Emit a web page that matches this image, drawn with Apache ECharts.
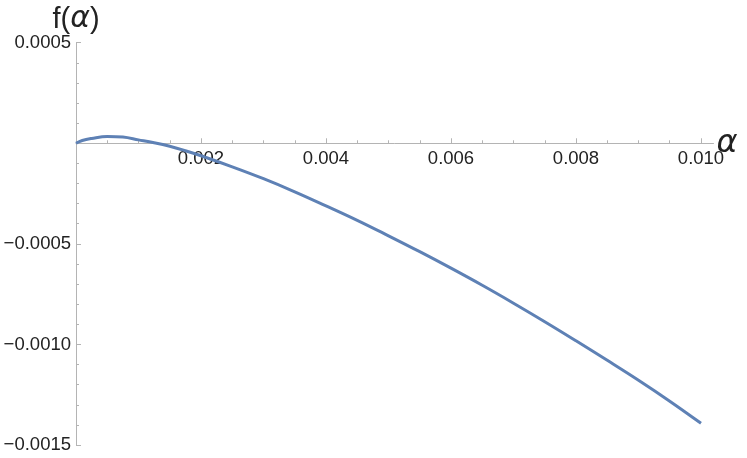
<!DOCTYPE html>
<html>
<head>
<meta charset="utf-8">
<script src="https://cdn.jsdelivr.net/npm/echarts@6/dist/echarts.min.js"></script>
<style>
  html, body { margin: 0; padding: 0; background: #fff; }
  #main { width: 747px; height: 458px; }
</style>
</head>
<body>
<div id="main"></div>
<script>
var chart = echarts.init(document.getElementById('main'));

// curve
var alpha = [0, 0.0001, 0.00025, 0.0005, 0.00075, 0.001, 0.00125, 0.0015, 0.00175,
  0.002, 0.0025, 0.003, 0.0035, 0.004, 0.0045, 0.005, 0.0055, 0.006, 0.0065,
  0.007, 0.0075, 0.008, 0.0085, 0.009, 0.0095, 0.01];
var fAlpha = [0, 0.000014, 0.000024, 0.000034, 0.000031, 0.000017, 0.0000025, -0.000015, -0.000037,
  -0.000062, -0.000117, -0.000176, -0.000241, -0.000311, -0.000383, -0.00046, -0.000539, -0.000621, -0.000706,
  -0.000795, -0.000887, -0.000982, -0.001079, -0.001178, -0.001282, -0.001392];

var xTicks = [0.002, 0.004, 0.006, 0.008, 0.010];
var xTickLabels = ['0.002', '0.004', '0.006', '0.008', '0.010'];
var xMinorTicks = [0.0005, 0.001, 0.0015, 0.0025, 0.003, 0.0035, 0.0045, 0.005, 0.0055,
  0.0065, 0.007, 0.0075, 0.0085, 0.009, 0.0095];
var yTicks = [0.0005, -0.0005, -0.0010, -0.0015];
var yTickLabels = ['0.0005', '\u22120.0005', '\u22120.0010', '\u22120.0015'];

var axisGray = '#b4b4b4';
var textColor = '#222';
var fontName = 'Liberation Sans';

var gridTop = 42.7;
var gridHeight = 402.3;
// y = 0 sits a quarter of the way down (range 0.0005 .. -0.0015)
var xAxisOffset = -gridHeight * 0.75;

function lookup(v, vals, labels) {
  for (var i = 0; i < vals.length; i++) {
    if (Math.abs(vals[i] - v) < 1e-9) return labels[i];
  }
  return '';
}

var points = alpha.map(function (a, i) { return [a, fAlpha[i]]; });

var option = {
  animation: false,
  grid: {
    left: 76,
    top: gridTop,
    width: 637.5,
    height: gridHeight,
    outerBounds: { left: -80, top: -80, right: -80, bottom: -80 }
  },
  xAxis: [
    {
      type: 'value',
      min: 0,
      max: 0.0102,
      interval: 0.002,
      position: 'bottom',
      offset: xAxisOffset,
      axisLine: { onZero: false, lineStyle: { color: axisGray, width: 1 } },
      axisTick: { show: true, inside: true, length: 5, customValues: xTicks, lineStyle: { color: axisGray } },
      axisLabel: {
        customValues: xTicks,
        margin: 6,
        color: textColor,
        fontFamily: fontName,
        fontSize: 18.5,
        formatter: function (v) { return lookup(v, xTicks, xTickLabels); }
      },
      splitLine: { show: false },
      name: '\u03b1',
      nameLocation: 'end',
      nameGap: 3,
      nameMoveOverlap: false,
      nameTextStyle: {
        color: textColor,
        fontFamily: 'DejaVu Sans',
        fontSize: 32,
        fontStyle: 'italic',
        verticalAlign: 'middle',
        padding: [0, 0, 6, 0]
      }
    },
    {
      type: 'value',
      min: 0,
      max: 0.0102,
      position: 'bottom',
      offset: xAxisOffset,
      axisLine: { show: false, onZero: false },
      axisTick: { show: true, inside: true, length: 3, customValues: xMinorTicks, lineStyle: { color: axisGray } },
      axisLabel: { show: false },
      splitLine: { show: false }
    }
  ],
  yAxis: {
    type: 'value',
    min: -0.0015,
    max: 0.0005,
    interval: 0.0005,
    axisLine: { show: true, onZero: false, lineStyle: { color: axisGray, width: 1 } },
    axisTick: { show: true, inside: true, length: 5, lineStyle: { color: axisGray } },
    minorTick: { show: true, splitNumber: 5, length: 3, lineStyle: { color: axisGray } },
    axisLabel: {
      margin: 5,
      color: textColor,
      fontFamily: fontName,
      fontSize: 18.5,
      formatter: function (v) { return lookup(v, yTicks, yTickLabels); }
    },
    splitLine: { show: false },
    name: '{n|f(}{i|\u03b1}{n|)}',
    nameLocation: 'end',
    nameGap: 8,
    nameMoveOverlap: false,
    nameTextStyle: {
      align: 'center',
      rich: {
        n: { fontFamily: fontName, fontSize: 29, color: textColor },
        i: { fontFamily: 'DejaVu Sans', fontSize: 30, color: textColor, fontStyle: 'italic' }
      }
    }
  },
  series: [
    {
      type: 'line',
      xAxisIndex: 0,
      smooth: 0.4,
      showSymbol: false,
      lineStyle: { color: '#5e81b5', width: 3 },
      data: points
    }
  ]
};

chart.setOption(option);
</script>
</body>
</html>
